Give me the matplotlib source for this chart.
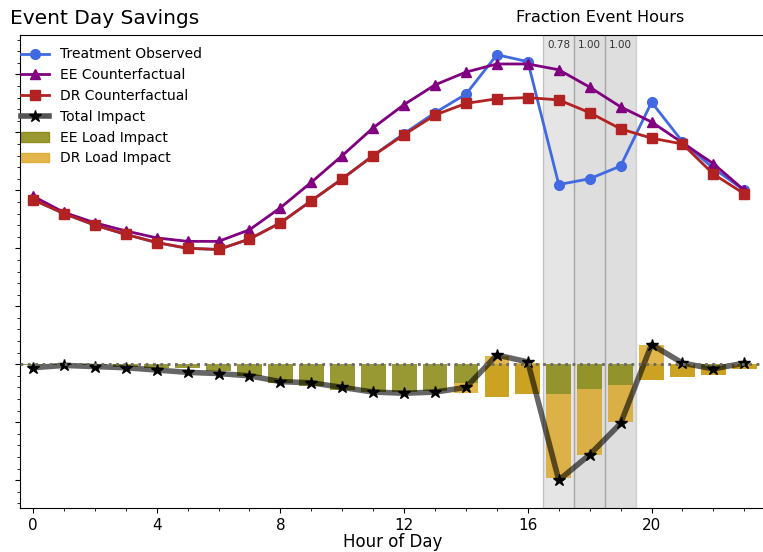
import matplotlib
matplotlib.use("Agg")
import matplotlib.pyplot as plt
from matplotlib.ticker import MultipleLocator, NullFormatter
from matplotlib.lines import Line2D
from matplotlib.patches import Patch

hours = list(range(24))

# loads (kW)
treatment_observed = [1.42, 1.30, 1.20, 1.12, 1.05, 1.00, 0.99, 1.08, 1.22, 1.41, 1.60, 1.80,
                      1.99, 2.17, 2.33, 2.67, 2.61, 1.55, 1.60, 1.71, 2.26, 1.92, 1.69, 1.50]
ee_counterfactual = [1.45, 1.31, 1.22, 1.15, 1.09, 1.06, 1.06, 1.16, 1.35, 1.57, 1.80, 2.04,
                     2.24, 2.41, 2.52, 2.59, 2.59, 2.54, 2.39, 2.22, 2.09, 1.91, 1.73, 1.50]
dr_counterfactual = [1.42, 1.30, 1.20, 1.12, 1.05, 1.00, 0.99, 1.08, 1.22, 1.41, 1.60, 1.80,
                     1.98, 2.15, 2.25, 2.29, 2.30, 2.28, 2.17, 2.03, 1.95, 1.90, 1.64, 1.47]

# impacts (kW)
total_impact = [-0.03, -0.01, -0.02, -0.03, -0.05, -0.07, -0.08, -0.10, -0.15, -0.16, -0.20, -0.24,
                -0.25, -0.24, -0.20, 0.08, 0.02, -1.00, -0.78, -0.51, 0.17, 0.01, -0.04, 0.01]
ee_load_impact = [-0.01, -0.01, -0.01, -0.02, -0.03, -0.03, -0.06, -0.10, -0.16, -0.19, -0.22, -0.24,
                  -0.24, -0.23, -0.16, -0.28, -0.26, -0.26, -0.21, -0.18, -0.14, -0.11, -0.09, -0.04]
dr_load_impact = [0, 0, 0, 0, 0, 0, 0, 0, 0, 0, 0, 0,
                  0, 0, -0.09, 0.35, 0.27, -0.72, -0.57, -0.32, 0.31, 0.11, 0.06, 0.04]

event_hours = [17, 18, 19]
event_fraction = [0.78, 1.00, 1.00]

fig = plt.figure(figsize=(7.63, 5.52), dpi=100)
ax = fig.add_axes([20 / 763, 44 / 552, 746 / 763, 473 / 552])

for h, f in zip(event_hours, event_fraction):
    ax.axvspan(h - 0.5, h + 0.5, facecolor="gray", alpha=0.26 * f, edgecolor="none", zorder=0)
    ax.axvline(h - 0.5, color="gray", alpha=0.35, lw=1, zorder=0)
    ax.axvline(h + 0.5, color="gray", alpha=0.35, lw=1, zorder=0)
    ax.text(h, 2.80, "%.2f" % f, ha="center", va="top", fontsize=7.5, color="#333333")

ax.bar(hours, ee_load_impact, width=0.8, color="olive", alpha=0.8, zorder=1)
ax.bar(hours, dr_load_impact, width=0.8, bottom=ee_load_impact, color="goldenrod", alpha=0.8, zorder=1)

ax.plot(hours, treatment_observed, color="royalblue", marker="o", lw=2, ms=7, zorder=3)
ax.plot(hours, ee_counterfactual, color="purple", marker="^", lw=2, ms=7, zorder=3)
ax.plot(hours, dr_counterfactual, color="firebrick", marker="s", lw=2, ms=7, zorder=3)
ax.plot(hours, total_impact, color="black", lw=4, alpha=0.6, zorder=4)
ax.plot(hours, total_impact, color="black", marker="*", lw=0, ms=9, zorder=5)
ax.axhline(0, color="dimgray", ls=":", lw=2, zorder=6)

ax.set_xlim(-0.42, 23.7)
ax.set_ylim(-1.24, 2.84)
ax.xaxis.set_major_locator(MultipleLocator(4))
ax.xaxis.set_minor_locator(MultipleLocator(1))
ax.yaxis.set_major_locator(MultipleLocator(0.5))
ax.yaxis.set_minor_locator(MultipleLocator(0.1))
ax.yaxis.set_major_formatter(NullFormatter())
ax.tick_params(axis="x", labelsize=11)
ax.spines["right"].set_visible(False)
ax.set_xlabel("Hour of Day", fontsize=12, labelpad=0)

handles = [
    Line2D([], [], color="royalblue", marker="o", lw=2, ms=7),
    Line2D([], [], color="purple", marker="^", lw=2, ms=7),
    Line2D([], [], color="firebrick", marker="s", lw=2, ms=7),
    Line2D([], [], color="#555555", marker="*", mfc="black", mec="black", lw=4, ms=9),
    Patch(color="olive", alpha=0.8),
    Patch(color="goldenrod", alpha=0.8),
]
labels = ["Treatment Observed", "EE Counterfactual", "DR Counterfactual",
          "Total Impact", "EE Load Impact", "DR Load Impact"]
ax.legend(handles, labels, loc="upper left", frameon=False, fontsize=10, labelspacing=0.49,
          borderaxespad=0, borderpad=0.1, bbox_to_anchor=(0, 1 - 11 / 473))

fig.text(10 / 763, 1 - 18 / 552, "Event Day Savings", fontsize=14.5, va="center", ha="left")
ax.text(18.35, 2.93, "Fraction Event Hours", fontsize=11.6, ha="center", va="bottom")

fig.savefig("out.png", dpi=100)
